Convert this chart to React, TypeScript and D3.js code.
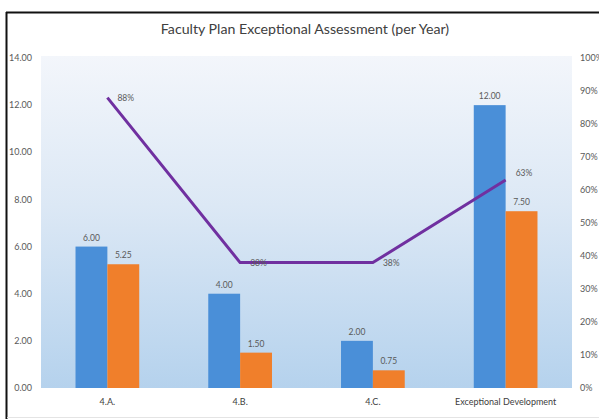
import * as d3 from "d3";
import { useEffect, useRef } from "react";

// chart values
const categories = ["4.A.", "4.B.", "4.C.", "Exceptional Development"];
const seriesNames = ["Plan", "Actual"];
const planValues = [6.0, 4.0, 2.0, 12.0];
const actualValues = [5.25, 1.5, 0.75, 7.5];
const ratioValues = [0.88, 0.38, 0.38, 0.63];
const leftTicks = [0, 2, 4, 6, 8, 10, 12, 14];
const rightTicks = [0, 0.1, 0.2, 0.3, 0.4, 0.5, 0.6, 0.7, 0.8, 0.9, 1.0];
const title = "Faculty Plan Exceptional Assessment (per Year)";

const W = 599;
const H = 419;
const FONT = "Lato, 'Open Sans', sans-serif";

const App = () => {
  const ref = useRef<SVGSVGElement>(null);

  useEffect(() => {
    const svg = d3.select(ref.current);
    svg.selectAll("*").remove();

    const plot = { left: 41, right: 572, top: 58, bottom: 388 };

    // background gradient of the plot area
    const defs = svg.append("defs");
    const grad = defs
      .append("linearGradient")
      .attr("id", "bg")
      .attr("x1", 0)
      .attr("y1", 0)
      .attr("x2", 0)
      .attr("y2", 1);
    grad.append("stop").attr("offset", "0%").attr("stop-color", "#f3f6fb");
    grad.append("stop").attr("offset", "45%").attr("stop-color", "#dce8f5");
    grad.append("stop").attr("offset", "100%").attr("stop-color", "#b5d2ed");

    svg.append("rect").attr("width", W).attr("height", H).attr("fill", "#fff");

    // frame lines
    svg.append("line").attr("x1", 6).attr("x2", W).attr("y1", 12.5).attr("y2", 12.5)
      .attr("stroke", "#111").attr("stroke-width", 2);
    svg.append("line").attr("x1", 6.5).attr("x2", 6.5).attr("y1", 12).attr("y2", H)
      .attr("stroke", "#111").attr("stroke-width", 2);
    svg.append("line").attr("x1", 7).attr("x2", W).attr("y1", 417.5).attr("y2", 417.5)
      .attr("stroke", "#e4e4e4").attr("stroke-width", 1);

    svg
      .append("rect")
      .attr("x", plot.left)
      .attr("y", plot.top - 2)
      .attr("width", plot.right - plot.left)
      .attr("height", plot.bottom - plot.top + 2)
      .attr("fill", "url(#bg)");

    // scales
    const x0 = d3
      .scaleBand<string>()
      .domain(categories)
      .range([plot.left, plot.right])
      .paddingInner(0.52)
      .paddingOuter(0.26);
    const x1 = d3
      .scaleBand<string>()
      .domain(seriesNames)
      .range([0, x0.bandwidth()]);
    const y = d3.scaleLinear().domain([0, 14]).range([plot.bottom, plot.top]);
    const yR = d3.scaleLinear().domain([0, 1]).range([plot.bottom, plot.top]);
    const center = (c: string) => (x0(c) as number) + x0.bandwidth() / 2;

    // title
    svg
      .append("text")
      .attr("x", 305)
      .attr("y", 34)
      .attr("text-anchor", "middle")
      .attr("font-family", FONT)
      .attr("font-size", 14.2)
      .attr("fill", "#404040")
      .text(title);

    // left axis labels
    svg
      .append("g")
      .selectAll("text")
      .data(leftTicks)
      .join("text")
      .attr("x", 32)
      .attr("y", (d) => y(d))
      .attr("dy", "0.35em")
      .attr("text-anchor", "end")
      .attr("font-family", FONT)
      .attr("font-size", 9)
      .attr("fill", "#595959")
      .text((d) => d.toFixed(2));

    // right axis labels
    svg
      .append("g")
      .selectAll("text")
      .data(rightTicks)
      .join("text")
      .attr("x", 580)
      .attr("y", (d) => yR(d))
      .attr("dy", "0.35em")
      .attr("font-family", FONT)
      .attr("font-size", 9)
      .attr("fill", "#595959")
      .text((d) => d3.format(".0%")(d));

    // category labels
    svg
      .append("g")
      .selectAll("text")
      .data(categories)
      .join("text")
      .attr("x", (d) => center(d))
      .attr("y", 405)
      .attr("text-anchor", "middle")
      .attr("font-family", FONT)
      .attr("font-size", 9)
      .attr("fill", "#404040")
      .text((d) => d);

    // bars
    const rows = categories.map((c, i) => ({
      cat: c,
      vals: [
        { key: seriesNames[0], v: planValues[i], color: "#4a8fd8" },
        { key: seriesNames[1], v: actualValues[i], color: "#f07f2b" },
      ],
    }));

    const groups = svg
      .append("g")
      .selectAll("g")
      .data(rows)
      .join("g")
      .attr("transform", (d) => `translate(${x0(d.cat)},0)`);

    groups
      .selectAll("rect")
      .data((d) => d.vals)
      .join("rect")
      .attr("x", (d) => x1(d.key) as number)
      .attr("y", (d) => y(d.v))
      .attr("width", x1.bandwidth())
      .attr("height", (d) => plot.bottom - y(d.v))
      .attr("fill", (d) => d.color);

    groups
      .selectAll("text")
      .data((d) => d.vals)
      .join("text")
      .attr("x", (d) => (x1(d.key) as number) + x1.bandwidth() / 2)
      .attr("y", (d) => y(d.v) - 6)
      .attr("text-anchor", "middle")
      .attr("font-family", FONT)
      .attr("font-size", 8.5)
      .attr("fill", "#595959")
      .text((d) => d.v.toFixed(2));

    // ratio line
    const pts = categories.map((c, i) => ({ cat: c, v: ratioValues[i] }));
    const line = d3
      .line<{ cat: string; v: number }>()
      .x((d) => center(d.cat))
      .y((d) => yR(d.v));

    svg
      .append("path")
      .datum(pts)
      .attr("d", line)
      .attr("fill", "none")
      .attr("stroke", "#7030a0")
      .attr("stroke-width", 3)
      .attr("stroke-linejoin", "round");

    svg
      .append("g")
      .selectAll("text")
      .data(pts)
      .join("text")
      .attr("x", (d) => center(d.cat) + 10)
      .attr("y", (d) => yR(d.v))
      .attr("dy", (d, i) => (i === pts.length - 1 ? "-0.5em" : "0.4em"))
      .attr("font-family", FONT)
      .attr("font-size", 8.5)
      .attr("fill", "#595959")
      .text((d) => d3.format(".0%")(d.v));
  }, []);

  return (
    <svg
      ref={ref}
      width={W}
      height={H}
      style={{ position: "absolute", left: 0, top: 0 }}
    />
  );
};

export default App;
